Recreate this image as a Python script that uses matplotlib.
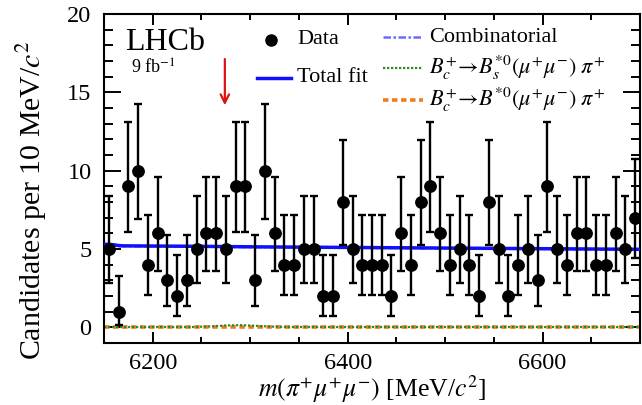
import math
import numpy as np
import matplotlib
matplotlib.use("Agg")
import matplotlib.pyplot as plt
from matplotlib.lines import Line2D
from matplotlib.ticker import MultipleLocator

plt.rcParams['font.family'] = ['Liberation Serif', 'DejaVu Serif']
plt.rcParams['mathtext.fontset'] = 'stix'

# ---------------- data ----------------
bin_centers = np.arange(6155, 6700, 10)
counts = [5, 1, 9, 10, 4, 6, 3, 2, 3, 5, 6, 6, 5, 9, 9, 3, 10, 6, 4,
          4, 5, 5, 2, 2, 8, 5, 4, 4, 4, 2, 6, 4, 8, 9, 6, 4, 5,
          4, 2, 8, 5, 2, 4, 5, 3, 9, 5, 4, 6, 6, 4, 4, 6, 5, 7]

fit_x = [6150, 6155, 6160, 6165, 6170, 6200, 6250, 6300, 6350, 6400, 6450, 6500, 6550, 6600, 6650, 6700]
total_fit = [5.30, 5.30, 5.27, 5.22, 5.20, 5.19, 5.17, 5.14, 5.12, 5.10, 5.08, 5.06, 5.04, 5.02, 5.00, 4.98]
combinatorial = [5.24, 5.24, 5.22, 5.19, 5.18, 5.17, 5.15, 5.12, 5.10, 5.08, 5.06, 5.04, 5.02, 5.00, 4.98, 4.96]

bs_x = [6150, 6240, 6260, 6275, 6290, 6305, 6320, 6340, 6700]
bs_comp = [0.02, 0.02, 0.06, 0.12, 0.14, 0.10, 0.05, 0.02, 0.02]
b_x = [6150, 6700]
b_comp = [0.02, 0.02]

arrow_x = 6274
arrow_y_top = 17.3
arrow_y_tip = 14.0


def pois_cdf(k, mu):
    if k < 0:
        return 0.0
    term = math.exp(-mu)
    s = term
    for i in range(1, k + 1):
        term *= mu / i
        s += term
    return s


def solve(f, target, lo, hi):
    # f decreasing in mu
    for _ in range(200):
        mid = 0.5 * (lo + hi)
        if f(mid) > target:
            lo = mid
        else:
            hi = mid
    return 0.5 * (lo + hi)


alpha = 0.158655
lo_err, hi_err = [], []
for n in counts:
    up = solve(lambda m: pois_cdf(n, m), alpha, 0.0, n + 50.0)
    low = 0.0 if n == 0 else solve(lambda m: pois_cdf(n - 1, m), 1 - alpha, 0.0, n + 50.0)
    lo_err.append(n - low)
    hi_err.append(up - n)

# ---------------- figure ----------------
fig = plt.figure(figsize=(6.42, 4.05), dpi=100)
ax = fig.add_axes([104 / 642, 1 - 343 / 405, 536 / 642, 329 / 405])

ax.plot(b_x, b_comp, color='#f07d1a', lw=2.6, ls=(0, (1.5, 1.0)), zorder=2)
ax.plot(bs_x, bs_comp, color='#2a8a2a', lw=1.6, ls=(0, (1, 0.8)), zorder=2)
ax.plot(fit_x, combinatorial, color='#6a6aff', lw=1.8, ls=(0, (3, 1, 1, 1)), zorder=2)
ax.plot(fit_x, total_fit, color='#1010ff', lw=2.5, zorder=3)

ax.errorbar(bin_centers, counts, yerr=[lo_err, hi_err], fmt='o', color='black',
            ms=8.2, elinewidth=1.7, capsize=3.2, capthick=1.7, zorder=4)

ax.annotate('', xy=(arrow_x, arrow_y_tip), xytext=(arrow_x, arrow_y_top),
            arrowprops=dict(arrowstyle='->,head_length=0.6,head_width=0.3',
                            color='#e01010', lw=1.6))

ax.set_xlim(6150, 6700)
ax.set_ylim(-1, 20)
ax.xaxis.set_major_locator(MultipleLocator(200))
ax.xaxis.set_minor_locator(MultipleLocator(50))
ax.yaxis.set_major_locator(MultipleLocator(5))
ax.yaxis.set_minor_locator(MultipleLocator(1))
ax.tick_params(axis='both', which='both', direction='in', top=True, right=True,
               width=1.4, labelsize=17.5)
ax.tick_params(axis='x', which='major', length=8, pad=7)
ax.tick_params(axis='x', which='minor', length=4.5)
ax.tick_params(axis='y', which='major', length=12, pad=9)
ax.tick_params(axis='y', which='minor', length=6.5)
for s in ax.spines.values():
    s.set_linewidth(1.5)

ax.set_xlabel(r'$m(\pi^{+}\mu^{+}\mu^{-})$ [MeV/$c^{2}$]', fontsize=18.5)
ax.xaxis.set_label_coords(0.5, -(389 - 343) / 329)
ax.xaxis.label.set_va('center')
ax.set_ylabel(r'Candidates per 10 MeV/$c^{2}$', fontsize=21.5)
ax.yaxis.set_label_coords(-(104 - 32) / 536, (343 - 200) / 329)
ax.yaxis.label.set_va('center')

# texts
ax.text(0.040, 0.912, 'LHCb', transform=ax.transAxes, fontsize=23, va='center', ha='left')
ax.text(0.051, 0.836, r'9 fb$^{-1}$', transform=ax.transAxes, fontsize=13, va='center', ha='left')

# legend (manual)
def ax_xy(px, py):
    return ((px - 104) / 536, (343 - py) / 329)

x0, y0 = ax_xy(270.5, 40)
ax.add_line(Line2D([x0], [y0], marker='o', color='black', ms=8, transform=ax.transAxes))
tx, ty = ax_xy(297, 40)
ax.text(tx, ty, 'Data', transform=ax.transAxes, fontsize=16, va='center', ha='left')

x1, y1 = ax_xy(257, 78)
x2, _ = ax_xy(291, 78)
ax.add_line(Line2D([x1, x2], [y1, y1], color='#1010ff', lw=2.5, transform=ax.transAxes))
tx, ty = ax_xy(297, 78)
ax.text(tx, ty, 'Total fit', transform=ax.transAxes, fontsize=16, va='center', ha='left')

rows = [(37, '#6a6aff', (0, (3, 1, 1, 1)), 1.8, 'Combinatorial'),
        (68, '#2a8a2a', (0, (1, 0.8)), 1.6, r'$B_c^{+}\!\rightarrow\! B_s^{*0}(\mu^{+}\mu^{-})\ \pi^{+}$'),
        (100, '#f07d1a', (0, (1.5, 1.0)), 2.6, r'$B_c^{+}\!\rightarrow\! B^{*0}(\mu^{+}\mu^{-})\ \pi^{+}$')]
for py, col, ls, lw, lab in rows:
    a1, b1 = ax_xy(383, py)
    a2, _ = ax_xy(423, py)
    ax.add_line(Line2D([a1, a2], [b1, b1], color=col, ls=ls, lw=lw, transform=ax.transAxes))
    tx, ty = ax_xy(429, py)
    ax.text(tx, ty, lab, transform=ax.transAxes, fontsize=16, va='center', ha='left')

fig.savefig('out.png', dpi=100)
